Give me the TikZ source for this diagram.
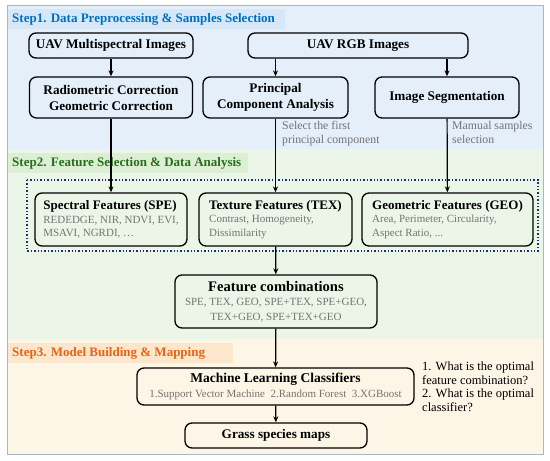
\documentclass[tikz,border=0pt]{standalone}
\usepackage{fontspec}
\setmainfont{Liberation Serif}
\usetikzlibrary{arrows.meta}
\definecolor{bgone}{RGB}{228,239,250}
\definecolor{bandone}{RGB}{214,232,247}
\definecolor{bgtwo}{RGB}{236,246,232}
\definecolor{bandtwo}{RGB}{220,239,212}
\definecolor{bgthree}{RGB}{253,246,230}
\definecolor{bandthree}{RGB}{252,230,204}
\definecolor{stepone}{RGB}{0,112,192}
\definecolor{steptwo}{RGB}{40,110,30}
\definecolor{stepthree}{RGB}{232,100,20}
\definecolor{subgray}{RGB}{115,115,115}
\definecolor{framegray}{RGB}{170,182,195}
\definecolor{dotnavy}{RGB}{30,50,110}
\newcommand{\subtxt}[1]{{\color{subgray}\fontsize{11}{13}\selectfont\mdseries #1}}

\begin{document}
\begin{tikzpicture}[x=1pt, y=-1pt, >={Stealth[length=6pt,width=5pt]},
  box/.style={draw, rounded corners=7pt, line width=1.3pt, align=center,
    inner sep=3pt, font=\fontsize{13.2}{16}\selectfont\bfseries},
  featbox/.style={box, align=left, minimum height=53, inner sep=6pt,
    font=\fontsize{13}{13.5}\selectfont\bfseries},
  head/.style={anchor=west, inner sep=0pt,
    font=\fontsize{13}{15}\selectfont\bfseries},
  note/.style={align=left, inner sep=0pt, text=subgray,
    font=\fontsize{11.8}{14}\selectfont},
  arr/.style={->, line width=1.2pt}]
  \useasboundingbox (0,0) rectangle (550,461);

  % three stage panels with title bands
  \foreach \ya/\yb/\bg/\band/\bw in {5/149/bgone/bandone/285,
      149/339/bgtwo/bandtwo/248, 339/454/bgthree/bandthree/233}{
    \fill[\bg] (7,\ya) rectangle (543,\yb);
    \fill[\band] (7,\ya+4) rectangle (\bw,\ya+24);
    \draw[framegray, line width=0.8pt] (7,\yb) -- (543,\yb);
  }
  \draw[framegray, line width=0.8pt] (7,5) rectangle (543,454);

  % panel titles
  \node[head, text=stepone] (h1) at (12,19.5)
    {Step1. Data Preprocessing \& Samples Selection};
  \node[head, text=steptwo] (h2) at (12,163.5)
    {Step2. Feature Selection \& Data Analysis};
  \node[head, text=stepthree] (h3) at (12,353)
    {Step3. Model Building \& Mapping};

  % step 1
  \node[box, minimum width=164, minimum height=25] (multi) at (111,45.5)
    {UAV Multispectral Images};
  \node[box, minimum width=220, minimum height=25] (rgb) at (358,45.5)
    {UAV RGB Images};
  \node[box, minimum width=163, minimum height=41] (radio) at (111,97.5)
    {Radiometric Correction\\Geometric Correction};
  \node[box, minimum width=145, minimum height=41] (pca) at (275.5,97.5)
    {Principal\\Component Analysis};
  \node[box, minimum width=144, minimum height=41] (seg) at (447,97.5)
    {Image Segmentation};
  \node[note, anchor=north west] (selpc) at (282,121)
    {Select the first\\principal component};
  \node[note, anchor=north west] (selman) at (452,121)
    {Mamual samples\\selection};

  % step 2
  \draw[dotnavy, dotted, line width=1.4pt] (27,180) rectangle (538,251);
  \node[featbox, minimum width=152] (spe) at (111,219.5)
    {Spectral Features (SPE)\\\subtxt{REDEDGE, NIR, NDVI, EVI,}\\\subtxt{MSAVI, NGRDI, …}};
  \node[featbox, minimum width=153] (tex) at (275.5,219.5)
    {Texture Features (TEX)\\\subtxt{Contrast, Homogeneity,}\\\subtxt{Dissimilarity}};
  \node[featbox, minimum width=171] (geo) at (447.5,219.5)
    {Geometric Features (GEO)\\\subtxt{Area, Perimeter, Circularity,}\\\subtxt{Aspect Ratio, ...}};
  \node[box, minimum width=202, minimum height=53, font=\fontsize{14.6}{14.5}\selectfont\bfseries]
    (comb) at (276,301.5)
    {Feature combinations\\\subtxt{SPE, TEX, GEO, SPE+TEX, SPE+GEO,}\\\subtxt{TEX+GEO, SPE+TEX+GEO}};

  % step 3
  \node[box, minimum width=277, minimum height=37, font=\fontsize{13.5}{14.5}\selectfont\bfseries]
    (ml) at (275.5,386.5)
    {Machine Learning Classifiers\\\subtxt{1.Support Vector Machine~~2.Random Forest~~3.XGBoost}};
  \node[box, minimum width=182, minimum height=25] (maps) at (276,435.5)
    {Grass species maps};
  \node[align=left, inner sep=0pt, anchor=north west,
    font=\fontsize{12.5}{13.5}\selectfont] (quest) at (422,362)
    {1. What is the optimal\\feature combination?\\2. What is the optimal\\classifier?};

  % connectors
  \draw[arr] (multi) -- (radio);
  \draw[arr] (pca.north |- rgb.south) -- (pca.north);
  \draw[arr] (seg.north |- rgb.south) -- (seg.north);
  \draw[arr] (radio) -- (spe);
  \draw[arr] (pca) -- (tex);
  \draw[arr] (seg) -- (geo);
  \draw[arr] (tex) -- (comb);
  \draw[arr] (comb) -- (ml);
  \draw[arr] (ml) -- (maps);
\end{tikzpicture}
\end{document}
